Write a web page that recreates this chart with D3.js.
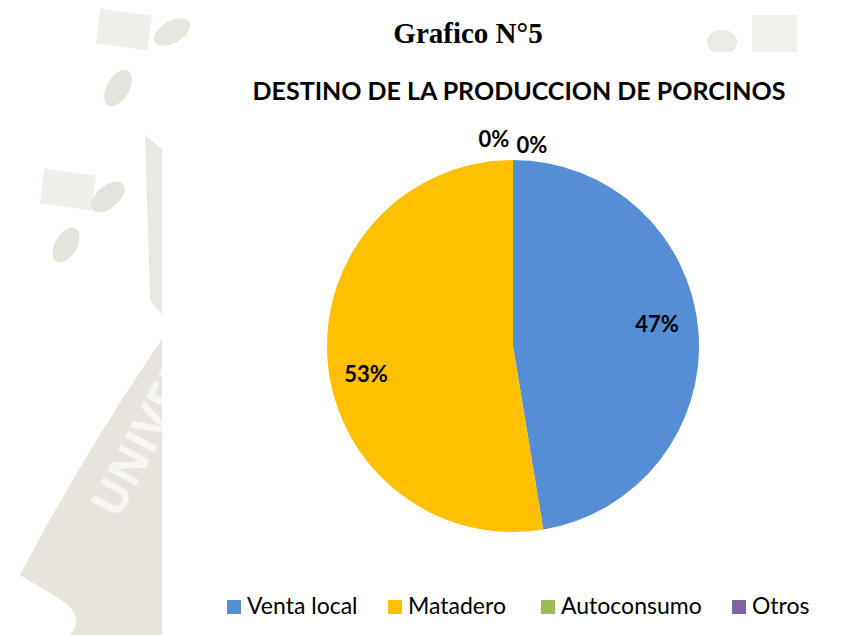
<!DOCTYPE html>
<html><head><meta charset="utf-8">
<script src="https://cdn.jsdelivr.net/npm/d3@7"></script>
<style>html,body{margin:0;padding:0;background:#fff;}svg{display:block;}</style>
</head><body>
<svg id="c" width="863" height="635"></svg>
<script>
const categories = ["Venta local", "Matadero", "Autoconsumo", "Otros"];
const values = [47.4, 52.6, 0, 0];
const colors = ["#558ed5", "#ffc000", "#9bbb59", "#8064a2"];
const pageTitle = "Grafico N°5";
const chartTitle = "DESTINO DE LA PRODUCCION DE PORCINOS";

const svg = d3.select("#c");
const W = 863, H = 635;

// faint watermark background
const wm = svg.append("g");
wm.append("path").attr("d", "M20,575 C70,480 120,400 175,320 L175,635 L70,635 C90,610 60,600 20,575 Z").attr("fill","#e6e4dc");
wm.append("rect").attr("x",98).attr("y",12).attr("width",52).attr("height",35).attr("transform","rotate(8,124,29)").attr("fill","#efeeea");
wm.append("ellipse").attr("cx",118).attr("cy",88).attr("rx",11).attr("ry",20).attr("transform","rotate(30,118,88)").attr("fill","#e4e3dc");
wm.append("ellipse").attr("cx",172).attr("cy",32).attr("rx",20).attr("ry",11).attr("transform","rotate(-30,172,32)").attr("fill","#e6e5de");
wm.append("rect").attr("x",42).attr("y",172).attr("width",52).attr("height",35).attr("transform","rotate(8,68,189)").attr("fill","#efeeea");
wm.append("ellipse").attr("cx",108).attr("cy",197).attr("rx",20).attr("ry",11).attr("transform","rotate(-40,108,197)").attr("fill","#e4e3dc");
wm.append("ellipse").attr("cx",66).attr("cy",245).attr("rx",11).attr("ry",19).attr("transform","rotate(30,66,245)").attr("fill","#e4e3dc");
wm.append("polygon").attr("points","145,135 175,160 175,330 150,300").attr("fill","#e9e8e2");
wm.append("text").attr("x",0).attr("y",0).attr("transform","translate(118,520) rotate(-62)")
  .attr("font-family","Open Sans, sans-serif").attr("font-weight","bold").attr("font-size",46).attr("fill","#f6f5f1").text("UNIVER");
wm.append("rect").attr("x",752).attr("y",15).attr("width",45).attr("height",40).attr("fill","#f1f0ec");
wm.append("ellipse").attr("cx",722).attr("cy",42).attr("rx",15).attr("ry",12).attr("fill","#ebeae4");

// white chart area
svg.append("rect").attr("x",162).attr("y",52).attr("width",W-162).attr("height",H-52).attr("fill","#fff");

svg.append("text").attr("x",468).attr("y",43).attr("text-anchor","middle")
  .attr("font-family","Liberation Serif, Times New Roman, serif").attr("font-weight","bold").attr("font-size",29)
  .attr("fill","#000").text(pageTitle);

svg.append("text").attr("x",519).attr("y",100).attr("text-anchor","middle")
  .attr("font-family","Lato, sans-serif").attr("font-weight","bold").attr("font-size",25)
  .attr("fill","#000").text(chartTitle);

const cx = 513, cy = 346, r = 186;
const pie = d3.pie().sort(null).value(d => d)(values);
const arc = d3.arc().innerRadius(0).outerRadius(r);
const g = svg.append("g").attr("transform", `translate(${cx},${cy})`);
g.selectAll("path").data(pie).join("path")
  .attr("d", arc).attr("fill", (d,i) => colors[i]);

const total = d3.sum(values);
const fmt = v => Math.round(v / total * 100) + "%";
// label offsets from pie centre (best-fit placement as in reference)
const labelOffsets = [[144,-22],[-147,28],[-19,-207],[19,-201]];
g.selectAll("text.lbl").data(pie).join("text").attr("class","lbl")
  .attr("font-family","Lato, sans-serif").attr("font-weight","bold").attr("font-size",22)
  .attr("text-anchor","middle").attr("dy","0.36em").attr("fill","#000")
  .attr("transform", (d,i) => `translate(${labelOffsets[i][0]},${labelOffsets[i][1]})`)
  .text(d => fmt(d.data));

// legend
const legX = [227, 388, 541, 732];
const leg = svg.append("g");
categories.forEach((c,i) => {
  leg.append("rect").attr("x",legX[i]).attr("y",600).attr("width",14).attr("height",14).attr("fill",colors[i]);
  leg.append("text").attr("x",legX[i]+20).attr("y",614)
    .attr("font-family","Lato, sans-serif").attr("font-size",23).attr("fill","#000").text(c);
});
</script>
</body></html>
